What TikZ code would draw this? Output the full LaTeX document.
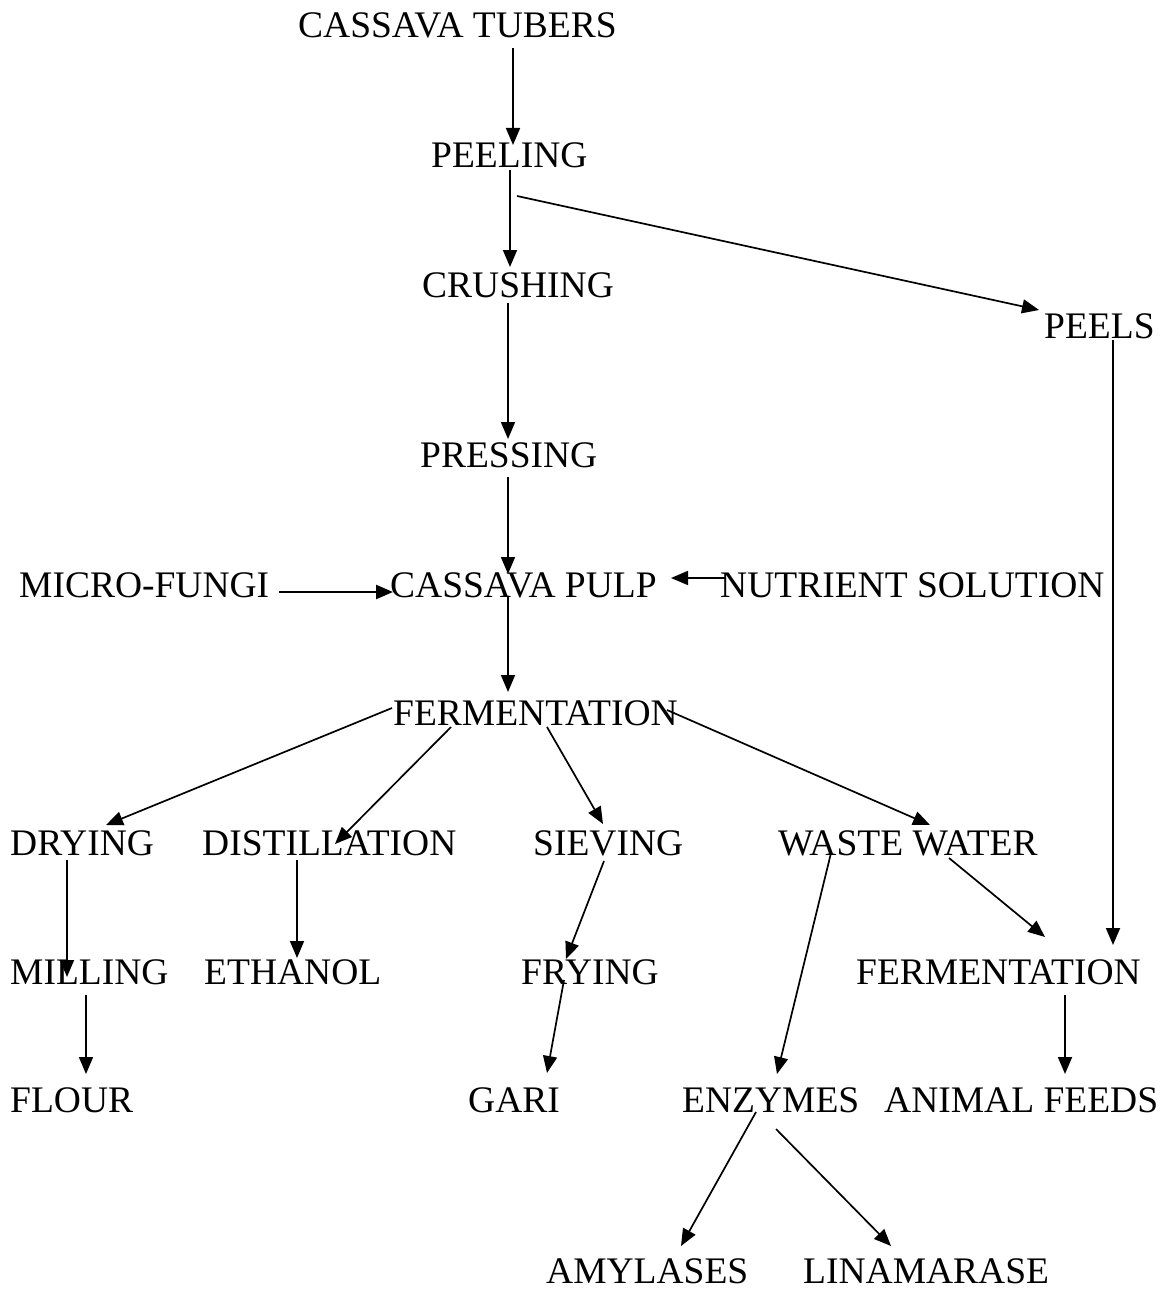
\documentclass[tikz,border=0pt]{standalone}
\usepackage{fontspec}
\setmainfont{Liberation Serif}
\usetikzlibrary{arrows.meta}
\tikzset{
  lbl/.style={anchor=base west, inner sep=0pt, font=\fontsize{37.5}{44}\selectfont},
  arr/.style={line width=1.7pt, -{Triangle[length=17pt,width=14pt]}},
}
\begin{document}
\begin{tikzpicture}[x=1pt,y=-1pt]
\useasboundingbox[fill=white] (0,0) rectangle (1162,1289);
\node[lbl] (tub)   at (298,38)   {CASSAVA TUBERS};
\node[lbl] (peel)  at (431,168)  {PEELING};
\node[lbl] (crush) at (422,297)  {CRUSHING};
\node[lbl] (press) at (420,467)  {PRESSING};
\node[lbl] (peels) at (1044,338) {PEELS};
\node[lbl] (micro) at (19,597)   {MICRO-FUNGI};
\node[lbl] (pulp)  at (390,597)  {CASSAVA PULP};
\node[lbl] (nutr)  at (720,597)  {NUTRIENT SOLUTION};
\node[lbl] (ferm)  at (393,725)  {FERMENTATION};
\node[lbl] (dry)   at (10,855)   {DRYING};
\node[lbl] (dist)  at (202,855)  {DISTILLATION};
\node[lbl] (siev)  at (533,855)  {SIEVING};
\node[lbl] (waste) at (778,855)  {WASTE WATER};
\node[lbl] (mill)  at (10,984)   {MILLING};
\node[lbl] (eth)   at (204,984)  {ETHANOL};
\node[lbl] (fry)   at (521,984)  {FRYING};
\node[lbl] (fermb) at (856,984)  {FERMENTATION};
\node[lbl] (flour) at (10,1112)  {FLOUR};
\node[lbl] (gari)  at (468,1112) {GARI};
\node[lbl] (enz)   at (682,1112) {ENZYMES};
\node[lbl] (feeds) at (884,1112) {ANIMAL FEEDS};
\node[lbl] (amyl)  at (546,1283) {AMYLASES};
\node[lbl] (lina)  at (803,1283) {LINAMARASE};

\draw[arr] ([shift={(215,10)}]tub.base west) -- ([shift={(82,-23)}]peel.base west);
\draw[arr] ([shift={(79,2)}]peel.base west) -- ([shift={(88,-30)}]crush.base west);
\draw[arr] ([shift={(86,28)}]peel.base west) -- ([shift={(-5,-28)}]peels.base west);
\draw[arr] ([shift={(86,6)}]crush.base west) -- ([shift={(88,-28)}]press.base west);
\draw[arr] ([shift={(88,10)}]press.base west) -- ([shift={(118,-23)}]pulp.base west);
\draw[arr,line width=2.4pt] ([shift={(260,-5)}]micro.base west) -- ([shift={(3,-5)}]pulp.base west);
\draw[arr] ([shift={(6,-19)}]nutr.base west) -- ([shift={(281,-19)}]pulp.base west);
\draw[arr] ([shift={(118,0)}]pulp.base west) -- ([shift={(115,-33)}]ferm.base west);
\draw[arr] ([shift={(69,2)}]peels.base west) -- ([shift={(257,-39)}]fermb.base west);
\draw[arr] ([shift={(-1,-17)}]ferm.base west) -- ([shift={(96,-30)}]dry.base west);
\draw[arr] ([shift={(58,2)}]ferm.base west) -- ([shift={(133,-11)}]dist.base west);
\draw[arr] ([shift={(154,2)}]ferm.base west) -- ([shift={(70,-31)}]siev.base west);
\draw[arr] ([shift={(274,-15)}]ferm.base west) -- ([shift={(152,-30)}]waste.base west);
\draw[arr] ([shift={(57,5)}]dry.base west) -- ([shift={(57,-7)}]mill.base west);
\draw[arr] ([shift={(95,5)}]dist.base west) -- ([shift={(93,-26)}]eth.base west);
\draw[arr] ([shift={(71,6)}]siev.base west) -- ([shift={(45,-25)}]fry.base west);
\draw[arr] ([shift={(43,-4)}]fry.base west) -- ([shift={(79,-39)}]gari.base west);
\draw[arr] ([shift={(53,-2)}]waste.base west) -- ([shift={(95,-38)}]enz.base west);
\draw[arr] ([shift={(171,3)}]waste.base west) -- ([shift={(189,-47)}]fermb.base west);
\draw[arr] ([shift={(76,11)}]mill.base west) -- ([shift={(76,-38)}]flour.base west);
\draw[arr] ([shift={(209,11)}]fermb.base west) -- ([shift={(181,-38)}]feeds.base west);
\draw[arr] ([shift={(74,0)}]enz.base west) -- ([shift={(135,-37)}]amyl.base west);
\draw[arr] ([shift={(94,17)}]enz.base west) -- ([shift={(88,-37)}]lina.base west);
\end{tikzpicture}
\end{document}
